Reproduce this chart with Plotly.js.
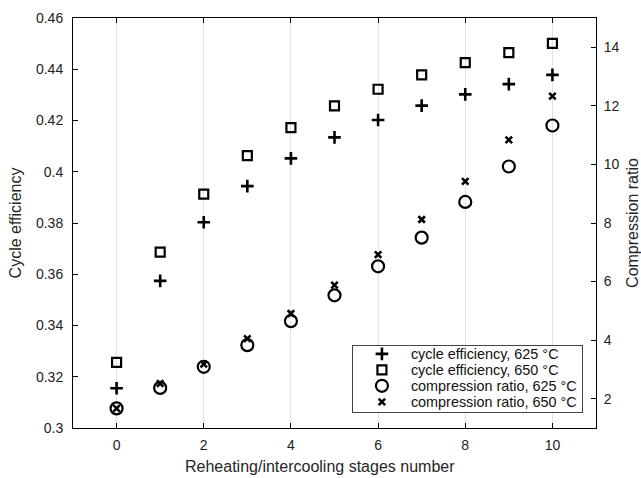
<!DOCTYPE html>
<html>
<head>
<meta charset="utf-8">
<script src="https://cdn.plot.ly/plotly-3.0.1.min.js"></script>
<style>html,body{margin:0;padding:0;background:#fff;}#chart{width:641px;height:478px;}</style>
</head>
<body>
<div id="chart"></div>
<script>
const stages = [0, 1, 2, 3, 4, 5, 6, 7, 8, 9, 10];
const effic625 = [0.3155, 0.3574, 0.3803, 0.3944, 0.4052, 0.4134, 0.4202, 0.4258, 0.4302, 0.4342, 0.4378];
const effic650 = [0.3256, 0.3686, 0.3913, 0.4063, 0.4172, 0.4257, 0.4322, 0.4378, 0.4426, 0.4465, 0.4501];
const comp625 = [1.67, 2.37, 3.09, 3.83, 4.65, 5.53, 6.52, 7.50, 8.72, 9.93, 11.33];
const comp650 = [1.67, 2.52, 3.18, 4.05, 4.91, 5.88, 6.92, 8.12, 9.42, 10.84, 12.33];
const names = ['cycle efficiency, 625 °C', 'cycle efficiency, 650 °C', 'compression ratio, 625 °C', 'compression ratio, 650 °C'];
const xTicks = [0, 2, 4, 6, 8, 10];
const yTicks = [0.3, 0.32, 0.34, 0.36, 0.38, 0.4, 0.42, 0.44, 0.46];
const yTickText = ['0.3', '0.32', '0.34', '0.36', '0.38', '0.4', '0.42', '0.44', '0.46'];
const y2Ticks = [2, 4, 6, 8, 10, 12, 14];
const xTitle = 'Reheating/intercooling stages number';
const yTitle = 'Cycle efficiency';
const y2Title = 'Compression ratio';

const FONT = 'Liberation Sans, Arial, sans-serif';
const traces = [
  {x: stages, y: effic625, name: names[0], mode: 'markers', type: 'scatter',
   marker: {symbol: 'cross-thin-open', size: 9, color: '#000', line: {color: '#000', width: 2.6}}},
  {x: stages, y: effic650, name: names[1], mode: 'markers', type: 'scatter',
   marker: {symbol: 'square-open', size: 9, color: '#000', line: {color: '#000', width: 2.2}}},
  {x: stages, y: comp625, name: names[2], mode: 'markers', type: 'scatter', yaxis: 'y2',
   marker: {symbol: 'circle-open', size: 12, color: '#000', line: {color: '#000', width: 2.2}}},
  {x: stages, y: comp650, name: names[3], mode: 'markers', type: 'scatter', yaxis: 'y2',
   marker: {symbol: 'x-thin-open', size: 6.5, color: '#000', line: {color: '#000', width: 2.6}}}
];

const axisCommon = {
  showline: true, linecolor: '#000', linewidth: 1, ticks: 'inside', ticklen: 5,
  tickcolor: '#000', tickwidth: 1, zeroline: false,
  tickfont: {family: FONT, size: 14, color: '#222'}
};

const layout = {
  width: 641, height: 478,
  margin: {l: 73, r: 45, t: 18, b: 50},
  paper_bgcolor: '#fff', plot_bgcolor: '#fff',
  showlegend: true,
  font: {family: FONT, color: '#222'},
  xaxis: Object.assign({}, axisCommon, {
    range: [-1, 11], tickvals: xTicks, mirror: 'ticks',
    showgrid: true, gridcolor: '#e3e3e3', gridwidth: 1,
    ticklabelstandoff: 4
  }),
  yaxis: Object.assign({}, axisCommon, {
    range: [0.3, 0.46], tickvals: yTicks, ticktext: yTickText, showgrid: false,
    ticklabelstandoff: 6,
    title: {text: yTitle, font: {family: FONT, size: 16, color: '#262626'}, standoff: 10}
  }),
  yaxis2: Object.assign({}, axisCommon, {
    range: [1, 15], tickvals: y2Ticks, overlaying: 'y', side: 'right', showgrid: false,
    ticklabelstandoff: 4,
    title: {text: y2Title, font: {family: FONT, size: 16, color: '#262626'}, standoff: 8}
  }),
  annotations: [{
    text: xTitle, xref: 'paper', yref: 'paper', x: 0.472, y: -0.093,
    xanchor: 'center', yanchor: 'middle', showarrow: false,
    font: {family: FONT, size: 16, color: '#262626'}
  }],
  legend: {
    x: 0.975, y: 0.037, xanchor: 'right', yanchor: 'bottom',
    bgcolor: '#fff', bordercolor: '#444', borderwidth: 1,
    font: {family: FONT, size: 14.4, color: '#111'},
    itemwidth: 48, tracegroupgap: 0
  }
};

function parseT(t) {
  const m = /translate\(\s*([-\d.e]+)[\s,]+([-\d.e]+)\s*\)/.exec(t || '');
  return m ? [parseFloat(m[1]), parseFloat(m[2])] : null;
}

const gd = document.getElementById('chart');
Plotly.newPlot(gd, traces, layout, {displayModeBar: false, staticPlot: true}).then(function () {
  try {
    const leg = gd.querySelector('g.legend');
    if (!leg) return;
    const bg = leg.querySelector('rect.bg');
    const items = leg.querySelectorAll('g.traces');
    const legT = parseT(leg.getAttribute('transform'));
    if (!bg || !legT || items.length < 2) return;
    const oldH = parseFloat(bg.getAttribute('height'));
    const sp = 16, topPad = 9, newH = 67;
    items.forEach(function (it, i) {
      const t = parseT(it.getAttribute('transform'));
      if (t) it.setAttribute('transform', 'translate(' + t[0] + ',' + (topPad + i * sp) + ')');
    });
    bg.setAttribute('height', newH);
    leg.setAttribute('transform', 'translate(' + legT[0] + ',' + (legT[1] + oldH - newH) + ')');
  } catch (e) {}
});
</script>
</body>
</html>
